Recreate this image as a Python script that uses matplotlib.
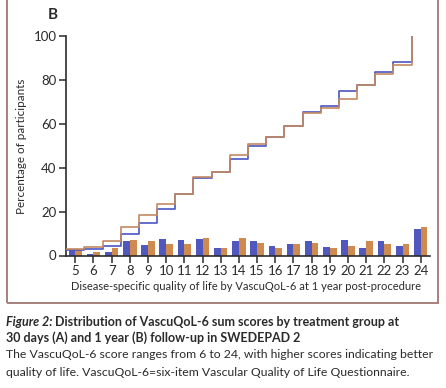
import numpy as np
import matplotlib.pyplot as plt
from matplotlib.patches import Rectangle

# VascuQoL-6 score categories
scores = list(range(5, 25))

# share of participants per score (%), blue group / orange group
bar_blue = [2.8, 0.8, 1.5, 6.4, 5.0, 7.6, 7.0, 7.6, 3.3, 6.4, 6.4, 4.5, 5.1, 6.4, 3.9, 7.0, 3.3, 6.4, 4.5, 11.9]
bar_orange = [2.3, 1.4, 3.3, 7.0, 6.4, 5.1, 5.1, 8.2, 3.3, 8.2, 5.7, 3.3, 5.1, 5.7, 3.3, 4.5, 6.4, 5.1, 5.1, 13.0]

# cumulative share (%)
cum_blue = [2.7, 3.0, 4.3, 9.9, 14.8, 21.1, 28.0, 35.3, 37.9, 44.1, 49.8, 54.0, 59.0, 65.3, 68.2, 74.8, 77.7, 83.6, 88.3, 100]
cum_orange = [2.9, 3.7, 6.8, 13.0, 18.5, 23.5, 28.0, 35.7, 37.9, 45.9, 50.9, 54.0, 59.0, 64.9, 67.2, 71.2, 77.7, 82.5, 87.0, 100]

y_ticks = [0, 20, 40, 60, 80, 100]

BLUE = "#5058bd"
ORANGE = "#cf8a4f"
BLUE_LINE = "#4a56c2"
ORANGE_LINE = "#c38960"
INK = "#2b2b2b"

plt.rcParams['font.family'] = ['Lato', 'DejaVu Sans']

W, H = 446, 388
fig = plt.figure(figsize=(W / 100, H / 100), dpi=100)
ax = fig.add_axes([66.2 / W, 1 - 255.5 / H, 363.6 / W, 219.5 / H])

x = np.array(scores)
w = 0.37
ax.bar(x - w / 2, bar_blue, width=w, color=BLUE, zorder=2)
ax.bar(x + w / 2, bar_orange, width=w, color=ORANGE, zorder=2)

# step lines: score k spans [k-0.5, k+0.5], last step rises to 100
ax.step(x - 0.5, cum_blue, where='post', color=BLUE_LINE, lw=1.2, zorder=3)
ax.step(x - 0.5, cum_orange, where='post', color=ORANGE_LINE, lw=1.2, zorder=3)

ax.set_xlim(4.5, 24.5)
ax.set_ylim(0, 100)
ax.set_xticks(scores)
ax.set_yticks(y_ticks)
for s in ['top', 'right']:
    ax.spines[s].set_visible(False)
for s in ['left', 'bottom']:
    ax.spines[s].set_color(INK)
    ax.spines[s].set_linewidth(1.2)
ax.tick_params(direction='out', length=5, width=1.1, color=INK,
               labelsize=9.5, labelcolor=INK, pad=2)

renderer = fig.canvas.get_renderer()


def fit(t, target, vertical=False):
    # scale font so the text spans target pixels
    bb = t.get_window_extent(renderer)
    size = bb.height if vertical else bb.width
    t.set_fontsize(t.get_fontsize() * target / size)


xl = fig.text(246 / W, 1 - 287 / H,
              "Disease-specific quality of life by VascuQoL-6 at 1 year post-procedure",
              ha='center', va='center', fontsize=8.5, color=INK)
fit(xl, 347)
yl = fig.text(22 / W, 1 - 146 / H, "Percentage of participants",
              ha='center', va='center', rotation=90, fontsize=8.5, color=INK)
fit(yl, 135, vertical=True)
fig.text(53 / W, 1 - 15 / H, "B", ha='center', va='center',
         fontsize=11, fontweight='bold', color=INK)

# frame around the panel
fig.patches.append(Rectangle((7 / W, 1 - 303 / H), 431 / W, 310 / H,
                             transform=fig.transFigure, fill=False,
                             edgecolor="#a9807b", lw=1.4))

# caption
t1 = fig.text(6 / W, 1 - 322 / H, "Figure 2:", ha='left', va='center',
              fontsize=10, fontweight='bold', fontstyle='italic', color=INK)
t1b = fig.text(60 / W, 1 - 322 / H,
               "Distribution of VascuQoL-6 sum scores by treatment group at",
               ha='left', va='center', fontsize=10, fontweight='bold', color=INK)
bb1 = t1.get_window_extent(renderer)
bb1b = t1b.get_window_extent(renderer)
k = 394 / (bb1.width + 3 + bb1b.width)
t1.set_fontsize(10 * k)
t1b.set_fontsize(10 * k)
t1b.set_x((6 + t1.get_window_extent(renderer).width + 3 * k) / W)
fig.text(6 / W, 1 - 338 / H,
         "30 days (A) and 1 year (B) follow-up in SWEDEPAD 2",
         ha='left', va='center', fontsize=10 * k, fontweight='bold', color=INK)
t3 = fig.text(6 / W, 1 - 355 / H,
              "The VascuQoL-6 score ranges from 6 to 24, with higher scores indicating better",
              ha='left', va='center', fontsize=9.5, color=INK)
fit(t3, 431)
fig.text(6 / W, 1 - 372 / H,
         "quality of life. VascuQoL-6=six-item Vascular Quality of Life Questionnaire.",
         ha='left', va='center', fontsize=t3.get_fontsize(), color=INK)

fig.savefig("out.png", dpi=100)
